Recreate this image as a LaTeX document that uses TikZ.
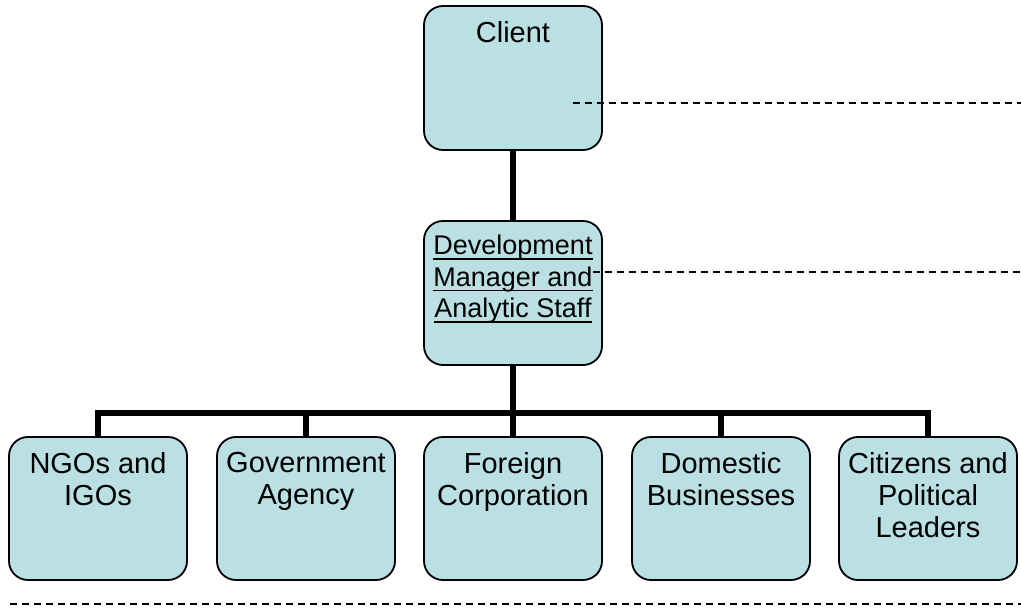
\documentclass[tikz,border=0pt]{standalone}
\usepackage{fontspec}
\setmainfont{Liberation Sans}
\definecolor{boxfill}{HTML}{BBE0E3}
% thick underline for the manager box
\newcommand\ulline[1]{\setbox0\hbox{#1}\rlap{\raisebox{-5pt}{\rule{\wd0}{1.8pt}}}\box0}
\begin{document}
\begin{tikzpicture}[x=1pt,y=-1pt,
  orgbox/.style={draw=black,line width=1.8pt,fill=boxfill,rounded corners=19pt,
    minimum width=178pt,minimum height=144pt,inner sep=0pt},
  boxtext/.style={anchor=north,inner sep=0pt,align=center,
    font=\fontsize{29}{32}\selectfont},
  conn/.style={line width=5.5pt,line join=miter},
  guide/.style={line width=1.3pt,dash pattern=on 7pt off 5pt}]
\useasboundingbox (0,0) rectangle (1021,609);

% boxes
\node[orgbox] (client) at (513,78) {};
\node[orgbox] (dev) at (513,293) {};
\node[orgbox,minimum height=143pt] (ngo) at (98,508.5) {};
\node[orgbox,minimum height=143pt] (gov) at (306,508.5) {};
\node[orgbox,minimum height=143pt] (for) at (513,508.5) {};
\node[orgbox,minimum height=143pt] (dom) at (721,508.5) {};
\node[orgbox,minimum height=143pt] (cit) at (928,508.5) {};

% captions
\node[boxtext] (tclient) at ([yshift=-16pt]client.north) {Client};
\node[boxtext,font=\fontsize{27}{31.5}\selectfont] (tdev) at ([yshift=-15pt]dev.north)
  {\ulline{Development}\\\ulline{Manager and}\\\ulline{Analytic Staff}};
\node[boxtext] (tngo) at ([yshift=-16pt]ngo.north) {NGOs and\\IGOs};
\node[boxtext] (tgov) at ([yshift=-16pt]gov.north) {Government\\Agency};
\node[boxtext] (tfor) at ([yshift=-16pt]for.north) {Foreign\\Corporation};
\node[boxtext] (tdom) at ([yshift=-16pt]dom.north) {Domestic\\Businesses};
\node[boxtext] (tcit) at ([yshift=-16pt]cit.north) {Citizens and\\Political\\Leaders};

% hierarchy connectors
\draw[conn] (client.south) -- (dev.north);
\coordinate (bar) at (513,413);
\draw[conn] (dev.south) -- (bar);
\draw[conn] (bar) -| (ngo.north);
\draw[conn] (bar) -| (gov.north);
\draw[conn] (bar) -- (for.north);
\draw[conn] (bar) -| (dom.north);
\draw[conn] (bar) -| (cit.north);

% dashed guide lines
\coordinate (g1a) at (573,103);
\coordinate (g1b) at (1021,103);
\coordinate (g2a) at (593,272);
\coordinate (g2b) at (1021,272);
\coordinate (g3a) at (10,604);
\coordinate (g3b) at (1021,604);
\draw[guide] (g1a) -- (g1b);
\draw[guide] (g2a) -- (g2b);
\draw[guide] (g3a) -- (g3b);
\end{tikzpicture}
\end{document}
